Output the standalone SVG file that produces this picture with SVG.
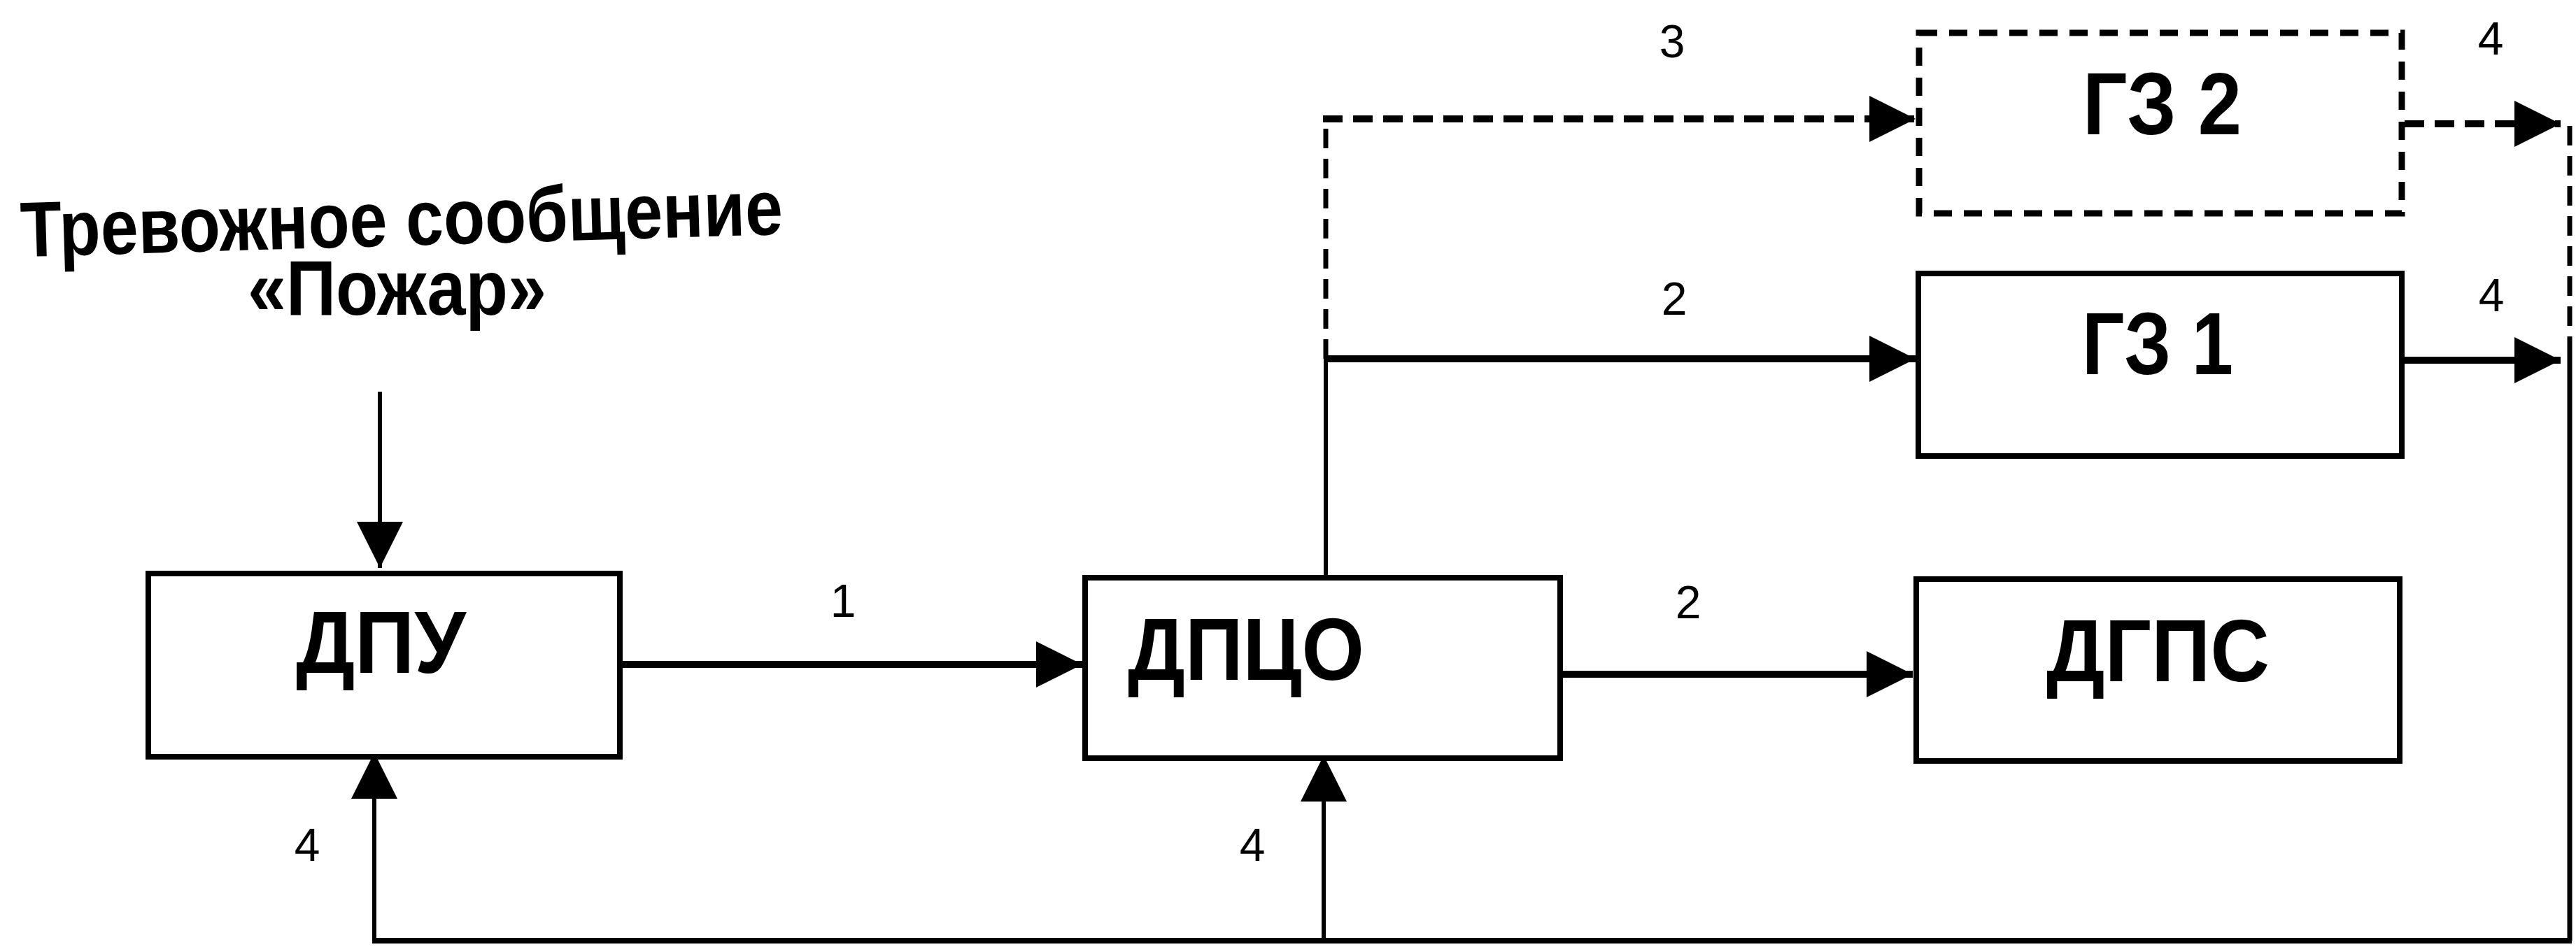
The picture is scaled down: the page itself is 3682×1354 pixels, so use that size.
<svg xmlns="http://www.w3.org/2000/svg" width="3682" height="1354" viewBox="0 0 3682 1354">
<style>
  .box{fill:#fff;stroke:#000;stroke-width:8}
  .dbox{fill:#fff;stroke:#000;stroke-width:9;stroke-dasharray:26 17}
  .h{fill:none;stroke:#000;stroke-width:10}
  .v{fill:none;stroke:#000;stroke-width:6}
  .dh{fill:none;stroke:#000;stroke-width:10;stroke-dasharray:28 15}
  .dv{fill:none;stroke:#000;stroke-width:7;stroke-dasharray:28 15}
  .lbl{font-family:"Liberation Sans",Arial,sans-serif;font-weight:bold;font-size:126px;fill:#000}
  .head{font-family:"Liberation Sans",Arial,sans-serif;font-weight:bold;font-size:112px;fill:#000}
  .num{font-family:"Liberation Sans",Arial,sans-serif;font-size:66px;fill:#000;text-anchor:middle}
</style>
<defs>
  <marker id="arr" markerUnits="userSpaceOnUse" markerWidth="66" markerHeight="66" refX="66" refY="33" orient="auto">
    <path d="M0,0 L66,33 L0,66 Z" fill="#000" stroke="none"/>
  </marker>
</defs>
<rect width="3682" height="1354" fill="#fff"/>

<g id="alarm">
  <text class="head" x="30" y="351" textLength="1090" lengthAdjust="spacingAndGlyphs" transform="rotate(-1.7 575 351)">Тревожное сообщение</text>
  <text class="head" x="354" y="450" textLength="427" lengthAdjust="spacingAndGlyphs">«Пожар»</text>
</g>

<g id="connectors">
  <line class="v" x1="543" y1="560" x2="543" y2="812" marker-end="url(#arr)"/>
  <line class="h" x1="890" y1="950" x2="1547" y2="950" marker-end="url(#arr)"/>
  <line class="h" x1="2234" y1="964" x2="2734" y2="964" marker-end="url(#arr)"/>
  <line class="v" x1="1895" y1="822" x2="1895" y2="513"/>
  <line class="h" x1="1892" y1="513" x2="2738" y2="513" marker-end="url(#arr)"/>
  <polyline class="dv" points="1895,513 1895,170"/>
  <line class="dh" x1="1891" y1="170" x2="2738" y2="170" marker-end="url(#arr)"/>
  <line class="dh" x1="3437" y1="177" x2="3660" y2="177" marker-end="url(#arr)"/>
  <line class="h" x1="3437" y1="515" x2="3660" y2="515" marker-end="url(#arr)"/>
  <line class="dv" x1="3673" y1="180" x2="3673" y2="505"/>
  <line class="v" x1="3673" y1="505" x2="3673" y2="1345" style="stroke-width:7"/>
  <line class="v" x1="532" y1="1345" x2="3676" y2="1345" style="stroke-width:8"/>
  <line class="v" x1="535" y1="1345" x2="535" y2="1076" marker-end="url(#arr)"/>
  <line class="v" x1="1892" y1="1345" x2="1892" y2="1080" marker-end="url(#arr)"/>
</g>

<g id="labels">
  <text class="num" x="1205" y="882">1</text>
  <text class="num" x="2413" y="884">2</text>
  <text class="num" x="2393" y="450">2</text>
  <text class="num" x="2390" y="82">3</text>
  <text class="num" x="3560" y="78">4</text>
  <text class="num" x="3561" y="445">4</text>
  <text class="num" x="439" y="1231">4</text>
  <text class="num" x="1790" y="1231">4</text>
</g>

<g id="dpu">
  <rect class="box" x="212" y="820" width="674" height="262"/>
  <text class="lbl" x="423" y="962" textLength="243" lengthAdjust="spacingAndGlyphs">ДПУ</text>
</g>
<g id="dpco">
  <rect class="box" x="1551" y="826" width="679" height="258"/>
  <text class="lbl" x="1612" y="972" textLength="338" lengthAdjust="spacingAndGlyphs">ДПЦО</text>
</g>
<g id="dgps">
  <rect class="box" x="2739" y="828" width="691" height="260"/>
  <text class="lbl" x="2925" y="974" textLength="319" lengthAdjust="spacingAndGlyphs">ДГПС</text>
</g>
<g id="gz1">
  <rect class="box" x="2742" y="391" width="691" height="261"/>
  <text class="lbl" x="2976" y="535" textLength="216" lengthAdjust="spacingAndGlyphs">ГЗ 1</text>
</g>
<g id="gz2">
  <rect class="dbox" x="2743" y="47" width="690" height="258"/>
  <text class="lbl" x="2977" y="192" textLength="227" lengthAdjust="spacingAndGlyphs">ГЗ 2</text>
</g>
</svg>
